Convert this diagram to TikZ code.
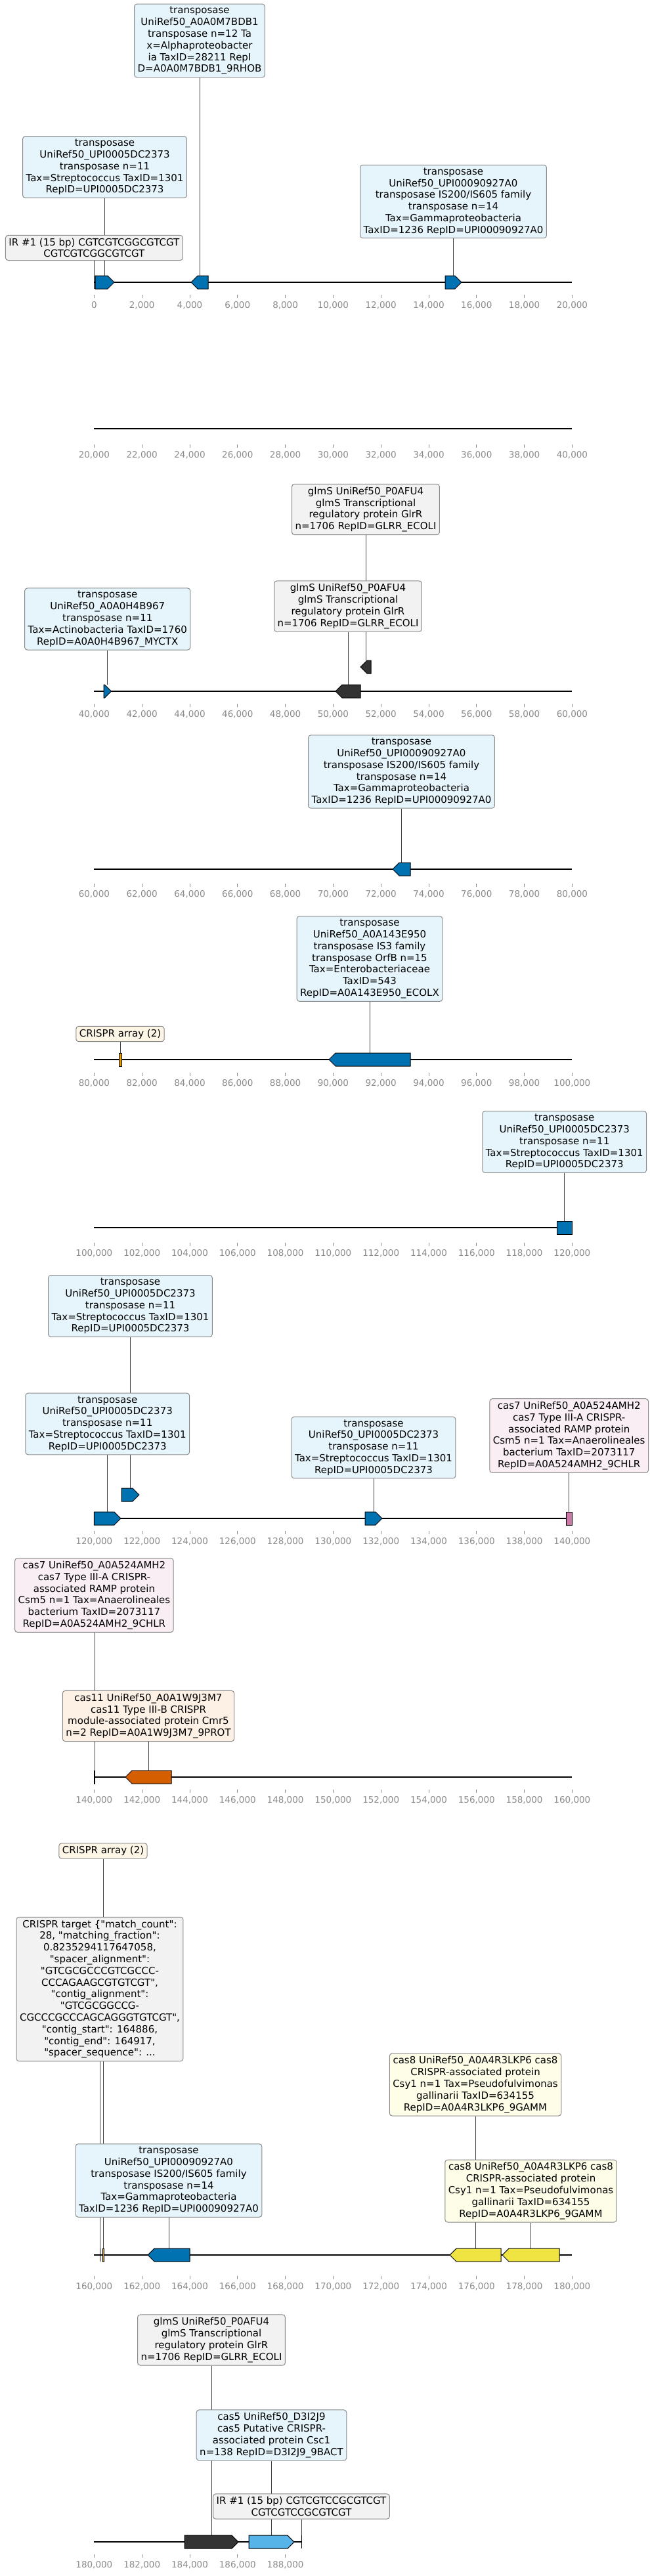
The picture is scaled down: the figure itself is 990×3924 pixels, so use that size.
\documentclass[tikz,border=0pt]{standalone}
\usepackage{fontspec}
\setmainfont[Ligatures=TeXOff]{DejaVu Sans}
\usetikzlibrary{backgrounds}

% gene colours
\definecolor{geneblue}{HTML}{0072B2}
\definecolor{genedark}{HTML}{333333}
\definecolor{genepink}{HTML}{CC79A7}
\definecolor{geneorange}{HTML}{D55E00}
\definecolor{geneyellow}{HTML}{F0E442}
\definecolor{genesky}{HTML}{56B4E9}
\definecolor{genecrispr}{HTML}{E69F00}
% label colours
\definecolor{fillblue}{HTML}{E6F5FC}
\definecolor{fillgray}{HTML}{F2F2F2}
\definecolor{fillpink}{HTML}{F8EEF4}
\definecolor{fillorange}{HTML}{FDF1E6}
\definecolor{fillyellow}{HTML}{FDFDE8}
\definecolor{fillcream}{HTML}{FDF6E7}
\definecolor{boxedge}{HTML}{8A8A8A}
\definecolor{axisgray}{HTML}{8C8C8C}

\tikzset{
  lbl/.style={draw=boxedge, line width=0.5pt, rounded corners=2pt, align=center,
    inner xsep=2.5pt, inner ysep=2.2pt, font=\fontsize{7.5}{8.9}\selectfont},
  tnlbl/.style={lbl, fill=fillblue},
  graylbl/.style={lbl, fill=fillgray},
  pinklbl/.style={lbl, fill=fillpink},
  orangelbl/.style={lbl, fill=fillorange},
  yellowlbl/.style={lbl, fill=fillyellow},
  creamlbl/.style={lbl, fill=fillcream},
  leader/.style={draw=black!75, line width=0.35pt},
  trackline/.style={line width=0.85pt},
  gene/.style={draw=black, line width=0.5pt},
  tick/.style={draw=axisgray, line width=0.4pt},
  ticklbl/.style={text=axisgray, font=\fontsize{6.75}{8}\selectfont, inner sep=0pt},
}

% repeated label texts
\newcommand{\tnstrep}{transposase\\UniRef50\_UPI0005DC2373\\transposase n=11\\Tax=Streptococcus TaxID=1301\\RepID=UPI0005DC2373}
\newcommand{\tngamma}{transposase\\UniRef50\_UPI00090927A0\\transposase IS200/IS605 family\\transposase n=14\\Tax=Gammaproteobacteria\\TaxID=1236 RepID=UPI00090927A0}
\newcommand{\glmslbl}{glmS UniRef50\_P0AFU4\\glmS Transcriptional\\regulatory protein GlrR\\n=1706 RepID=GLRR\_ECOLI}
\newcommand{\casseven}{cas7 UniRef50\_A0A524AMH2\\cas7 Type III-A CRISPR-\\associated RAMP protein\\Csm5 n=1 Tax=Anaerolineales\\bacterium TaxID=2073117\\RepID=A0A524AMH2\_9CHLR}
\newcommand{\caseight}{cas8 UniRef50\_A0A4R3LKP6 cas8\\CRISPR-associated protein\\Csy1 n=1 Tax=Pseudofulvimonas\\gallinarii TaxID=634155\\RepID=A0A4R3LKP6\_9GAMM}

% genes: name, start, end, y, colour
\newcommand{\fwdgene}[5]{%
  \pgfmathsetmacro\ghead{min(10,#3-#2)}%
  \draw[gene, fill=#5] (#2,#4-10) -- ({#3-\ghead},#4-10) -- (#3,#4)
    -- ({#3-\ghead},#4+10) -- (#2,#4+10) -- cycle;
  \coordinate (#1) at ({(#2+#3)/2},#4-10);}
\newcommand{\revgene}[5]{%
  \pgfmathsetmacro\ghead{min(10,#3-#2)}%
  \draw[gene, fill=#5] (#3,#4-10) -- ({#2+\ghead},#4-10) -- (#2,#4)
    -- ({#2+\ghead},#4+10) -- (#3,#4+10) -- cycle;
  \coordinate (#1) at ({(#2+#3)/2},#4-10);}
\newcommand{\blockgene}[5]{%
  \draw[gene, fill=#5] (#2,#4-10) rectangle (#3,#4+10);
  \coordinate (#1) at ({(#2+#3)/2},#4-10);}
% thin mark: name, x, y
\newcommand{\markgene}[3]{%
  \draw[gene] (#2,#3-10) -- (#2,#3+10);
  \coordinate (#1) at (#2,#3-10);}

% ruler: tick y, first value (kb), last tick index
\newcommand{\ruler}[3]{%
  \foreach \i in {0,...,#3} {
    \pgfmathsetmacro\tx{143.4+72.8*\i}
    \pgfmathtruncatemacro\tkv{#2+2*\i}
    \draw[tick] (\tx,#1) -- (\tx,#1+5);
    \node[ticklbl] (tk#2-\i) at (\tx,#1+16) {\ifnum\tkv=0 0\else\tkv,000\fi};
  }}

\begin{document}
\begin{tikzpicture}[x=0.5pt, y=-0.5pt]
  \useasboundingbox (0,0) rectangle (990,3924);

  % 0 - 20,000
  \node[graylbl] (ir1) at (143.4,377.5) {IR \#1 (15 bp) CGTCGTCGGCGTCGT\\CGTCGTCGGCGTCGT};
  \node[tnlbl] (tn1a) at (159.5,254.5) {\tnstrep};
  \node[tnlbl] (tn1b) at (304,62) {transposase\\UniRef50\_A0A0M7BDB1\\transposase n=12 Ta\\x=Alphaproteobacter\\ia TaxID=28211 RepI\\D=A0A0M7BDB1\_9RHOB};
  \node[tnlbl] (tn1c) at (690.5,307) {\tngamma};
  \markgene{ir1g}{143.4}{430}
  \fwdgene{g1a}{145}{174}{430}{geneblue}
  \revgene{g1b}{291}{317}{430}{geneblue}
  \fwdgene{g1c}{678}{703}{430}{geneblue}

  % 40,000 - 60,000
  \node[tnlbl] (tn3) at (163.75,943) {transposase\\UniRef50\_A0A0H4B967\\transposase n=11\\Tax=Actinobacteria TaxID=1760\\RepID=A0A0H4B967\_MYCTX};
  \node[graylbl] (gl3a) at (557,776) {\glmslbl};
  \node[graylbl] (gl3b) at (530,923.5) {\glmslbl};
  \fwdgene{g3a}{158}{169.5}{1053}{geneblue}
  \revgene{g3b}{511}{549}{1053}{genedark}
  \revgene{g3c}{549}{565}{1016}{genedark}

  % 60,000 - 80,000
  \node[tnlbl] (tn4) at (611.5,1175.5) {\tngamma};
  \revgene{g4a}{598}{625}{1324}{geneblue}

  % 80,000 - 100,000
  \node[creamlbl] (cr5) at (183,1575) {CRISPR array (2)};
  \node[tnlbl] (tn5) at (563,1460.5) {transposase\\UniRef50\_A0A143E950\\transposase IS3 family\\transposase OrfB n=15\\Tax=Enterobacteriaceae\\TaxID=543\\RepID=A0A143E950\_ECOLX};
  \blockgene{g5a}{181}{185}{1614}{genecrispr}
  \revgene{g5b}{501}{625}{1614}{geneblue}

  % 100,000 - 120,000
  \node[tnlbl] (tn6) at (859.7,1739.5) {\tnstrep};
  \blockgene{g6a}{848}{871.4}{1870}{geneblue}

  % 120,000 - 140,000
  \node[tnlbl] (tn7a) at (198.5,1989.5) {\tnstrep};
  \node[tnlbl] (tn7b) at (163.7,2169) {\tnstrep};
  \node[tnlbl] (tn7c) at (569,2205) {\tnstrep};
  \node[pinklbl] (cs7a) at (866.7,2187) {\casseven};
  \fwdgene{g7a}{143.4}{184}{2313}{geneblue}
  \fwdgene{g7b}{185}{212}{2277}{geneblue}
  \fwdgene{g7c}{556}{582}{2313}{geneblue}
  \blockgene{g7d}{862}{871.4}{2313}{genepink}

  % 140,000 - 160,000
  \node[pinklbl] (cs7b) at (143.4,2430) {\casseven};
  \node[orangelbl] (cs11) at (226,2614) {cas11 UniRef50\_A0A1W9J3M7\\cas11 Type III-B CRISPR\\module-associated protein Cmr5\\n=2 RepID=A0A1W9J3M7\_9PROT};
  \blockgene{g8a}{143.4}{144.4}{2707}{genepink}
  \revgene{g8b}{191}{261}{2707}{geneorange}

  % 160,000 - 180,000
  \node[creamlbl] (cr9) at (157,2819.5) {CRISPR array (2)};
  \node[graylbl] (tg9) at (152,3030) {CRISPR target \{"match\_count":\\28, "matching\_fraction":\\0.8235294117647058,\\"spacer\_alignment":\\"GTCGCGCCCGTCGCCC-\\CCCAGAAGCGTGTCGT",\\"contig\_alignment":\\"GTCGCGGCCG-\\CGCCCGCCCAGCAGGGTGTCGT",\\"contig\_start": 164886,\\"contig\_end": 164917,\\"spacer\_sequence": ...};
  \node[tnlbl] (tn9) at (257,3321.5) {\tngamma};
  \node[yellowlbl] (cs8a) at (724,3175.5) {\caseight};
  \node[yellowlbl] (cs8b) at (808.5,3337.5) {\caseight};
  \markgene{g9a}{152}{3435}
  \blockgene{g9b}{156}{158}{3435}{genecrispr}
  \revgene{g9c}{225}{289}{3435}{geneblue}
  \revgene{g9d}{685}{763}{3435}{geneyellow}
  \revgene{g9e}{765}{852}{3435}{geneyellow}

  % 180,000 - end
  \node[graylbl] (gl10) at (322,3564.5) {\glmslbl};
  \node[tnlbl] (cs5) at (413.5,3709.5) {cas5 UniRef50\_D3I2J9\\cas5 Putative CRISPR-\\associated protein Csc1\\n=138 RepID=D3I2J9\_9BACT};
  \node[graylbl] (ir10) at (459,3818) {IR \#1 (15 bp) CGTCGTCCGCGTCGT\\CGTCGTCCGCGTCGT};
  \fwdgene{g10a}{281}{363}{3872}{genedark}
  \fwdgene{g10b}{379}{448}{3872}{genesky}
  \markgene{g10c}{459}{3872}

  % rulers
  \foreach \ty/\kk in {449/0, 677/20, 1072/40, 1346/60, 1634/80, 1893/100, 2332/120, 2726/140, 3467/160}
    \ruler{\ty}{\kk}{10};
  \ruler{3891}{180}{4}

  \begin{scope}[on background layer]
    \fill[white] (0,0) rectangle (990,3924);
    % sequence lines
    \foreach \ly in {430, 653, 1053, 1324, 1614, 1870, 2313, 2707, 3435}
      \draw[trackline] (143.4,\ly) -- (871.4,\ly);
    \draw[trackline] (143.4,3872) -- (459,3872);
    % leaders
    \foreach \g/\b in {ir1g/ir1, g1a/tn1a, g1b/tn1b, g1c/tn1c,
        g3a/tn3, g3b/gl3b, g3c/gl3a, g4a/tn4, g5a/cr5, g5b/tn5, g6a/tn6,
        g7a/tn7b, g7b/tn7a, g7c/tn7c, g7d/cs7a, g8a/cs7b, g8b/cs11,
        g9a/tg9, g9b/cr9, g9c/tn9, g9d/cs8a, g9e/cs8b,
        g10a/gl10, g10b/cs5, g10c/ir10}
      \draw[leader] (\g |- \b.south) -- (\g);
  \end{scope}
\end{tikzpicture}
\end{document}
